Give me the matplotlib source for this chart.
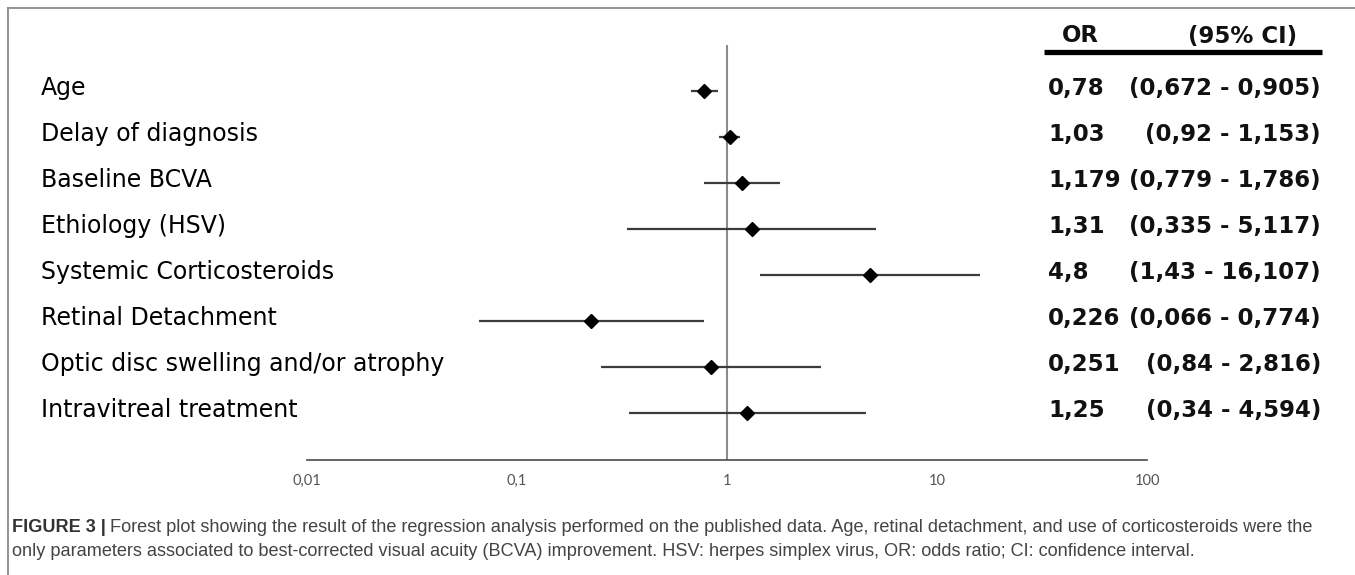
import matplotlib
matplotlib.use("Agg")
import matplotlib.pyplot as plt
from matplotlib.lines import Line2D
from matplotlib import font_manager

# ---------------- data ----------------
labels = ["Age", "Delay of diagnosis", "Baseline BCVA", "Ethiology (HSV)",
          "Systemic Corticosteroids", "Retinal Detachment",
          "Optic disc swelling and/or atrophy", "Intravitreal treatment"]
or_text = ["0,78", "1,03", "1,179", "1,31", "4,8", "0,226", "0,251", "1,25"]
ci_text = ["(0,672 - 0,905)", "(0,92 - 1,153)", "(0,779 - 1,786)", "(0,335 - 5,117)",
           "(1,43 - 16,107)", "(0,066 - 0,774)", "(0,84 - 2,816)", "(0,34 - 4,594)"]
point = [0.78, 1.03, 1.179, 1.31, 4.8, 0.226, 0.84, 1.25]
lower = [0.672, 0.92, 0.779, 0.335, 1.43, 0.066, 0.251, 0.34]
upper = [0.905, 1.153, 1.786, 5.117, 16.107, 0.774, 2.816, 4.594]
tick_vals = [0.01, 0.1, 1, 10, 100]
tick_labels = ["0,01", "0,1", "1", "10", "100"]
caption_bold = "FIGURE 3 |"
caption_line1 = ("Forest plot showing the result of the regression analysis performed on the "
                 "published data. Age, retinal detachment, and use of corticosteroids were the")
caption_line2 = ("only parameters associated to best-corrected visual acuity (BCVA) improvement. "
                 "HSV: herpes simplex virus, OR: odds ratio; CI: confidence interval.")

W, H = 1355, 575
fig = plt.figure(figsize=(W / 100, H / 100), dpi=100)
fig.patch.set_facecolor("white")


def fx(x):
    return x / W


def fy(y):
    return 1 - y / H


avail = {f.name for f in font_manager.fontManager.ttflist}
tick_font = "Lato" if "Lato" in avail else "DejaVu Sans"
cap_font = "Liberation Sans" if "Liberation Sans" in avail else "DejaVu Sans"

# frame lines (top & left)
fig.add_artist(Line2D([fx(8), fx(W)], [fy(8), fy(8)], color="#8a8a8a", lw=1.3,
                      transform=fig.transFigure))
fig.add_artist(Line2D([fx(8), fx(8)], [fy(8), fy(H)], color="#8a8a8a", lw=1.3,
                      transform=fig.transFigure))

# ---------------- forest axes ----------------
row0, step = 91, 46
ax_top, ax_bot = 45, 460
ax_left, ax_right = 307, 1147
ax = fig.add_axes([fx(ax_left), fy(ax_bot), (ax_right - ax_left) / W, (ax_bot - ax_top) / H])
ax.set_xscale("log")
ax.set_xlim(0.01, 100)
ax.set_ylim((ax_bot - row0) / step, (ax_top - row0) / step)
for s in ["top", "right", "left"]:
    ax.spines[s].set_visible(False)
ax.spines["bottom"].set_color("#4a4a4a")
ax.spines["bottom"].set_linewidth(1.2)
ax.set_yticks([])
ax.set_xticks(tick_vals)
ax.set_xticklabels(tick_labels)
ax.minorticks_off()
ax.tick_params(axis="x", length=0, pad=10, labelsize=10.5, labelcolor="#555555")
for t in ax.get_xticklabels():
    t.set_fontfamily(tick_font)
ax.patch.set_alpha(0)

ax.axvline(1, color="#8c8c8c", lw=1.5, zorder=1)
ys = list(range(len(labels)))
ax.hlines(ys, lower, upper, color="#3c3c3c", lw=1.6, zorder=2)
ax.plot(point, ys, linestyle="none", marker="D", color="black", ms=7, zorder=3)

# ---------------- text columns ----------------
for i, (lab, o, c) in enumerate(zip(labels, or_text, ci_text)):
    y = row0 + step * i - 3
    fig.text(fx(41), fy(y), lab, ha="left", va="center", fontsize=17,
             family="DejaVu Sans", color="black")
    fig.text(fx(1048), fy(y), o, ha="left", va="center", fontsize=16.5,
             family="DejaVu Sans", weight="bold", color="#111111")
    fig.text(fx(1321), fy(y), c, ha="right", va="center", fontsize=16.5,
             family="DejaVu Sans", weight="bold", color="#111111")

fig.text(fx(1080), fy(36), "OR", ha="center", va="center", fontsize=16.5,
         family="DejaVu Sans", weight="bold", color="#111111")
fig.text(fx(1243), fy(36), "(95% CI)", ha="center", va="center", fontsize=16.5,
         family="DejaVu Sans", weight="bold", color="#111111")
fig.add_artist(Line2D([fx(1044), fx(1322)], [fy(52), fy(52)], color="black", lw=3.8,
                      solid_capstyle="butt", transform=fig.transFigure))

# ---------------- caption ----------------
renderer = fig.canvas.get_renderer()
cap_left, cap_right = 12, 1322
cap_size = 11.5
tb = fig.text(fx(cap_left), fy(527), caption_bold, ha="left", va="center", fontsize=cap_size,
              family=cap_font, weight="bold", color="#333333")
bw = tb.get_window_extent(renderer).width
t1 = fig.text(fx(cap_left + bw + 4), fy(527), caption_line1, ha="left", va="center",
              fontsize=cap_size, family=cap_font, color="#444444")
w1 = t1.get_window_extent(renderer).width
cap_size *= (cap_right - cap_left) / (bw + 4 + w1)
tb.set_fontsize(cap_size)
bw = tb.get_window_extent(renderer).width
t1.set_fontsize(cap_size)
t1.set_position((fx(cap_left + bw + 4), fy(527)))
fig.text(fx(cap_left), fy(551), caption_line2, ha="left", va="center", fontsize=cap_size,
         family=cap_font, color="#444444")

fig.savefig("out.png", dpi=100, facecolor="white")
